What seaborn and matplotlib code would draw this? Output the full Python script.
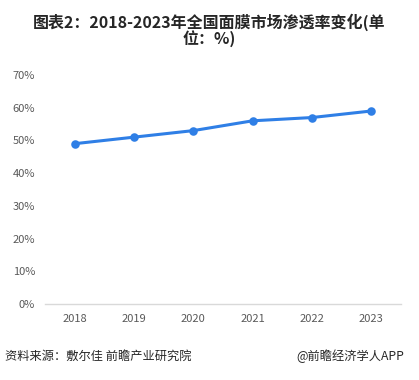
import seaborn as sns
import pandas as pd
import matplotlib.pyplot as plt

# data
years = ['2018', '2019', '2020', '2021', '2022', '2023']
rates = [49, 51, 53, 56, 57, 59]
yticks = [0, 10, 20, 30, 40, 50, 60, 70]

df = pd.DataFrame({'year': years, 'rate': rates})

sns.set_style('white')
plt.rcParams['font.family'] = ['Noto Sans CJK SC', 'DejaVu Sans']

fig = plt.figure(figsize=(4.19, 3.8), dpi=100)
ax = fig.add_axes([0.107, 0.2, 0.85, 0.6026])

sns.pointplot(data=df, x='year', y='rate', color='#2f7fe6',
              markersize=4.5, linewidth=2.2, ax=ax)

ax.set_xlim(-0.5, 5.5)
ax.set_ylim(0, 70)
ax.set_yticks(yticks)
ax.set_yticklabels([f'{t}%' for t in yticks])
ax.set_xlabel('')
ax.set_ylabel('')
ax.tick_params(axis='both', length=0, labelsize=8, labelcolor='#595959')
ax.tick_params(axis='x', pad=7)
ax.tick_params(axis='y', pad=7)
for s in ['top', 'right', 'left']:
    ax.spines[s].set_visible(False)
ax.spines['bottom'].set_color('#d9d9d9')
ax.spines['bottom'].set_linewidth(1)
ax.grid(False)

fig.text(0.5, 0.965, '图表2：2018-2023年全国面膜市场渗透率变化(单\n位：%)',
         ha='center', va='top', fontsize=11.5, fontweight='bold',
         color='#262626', linespacing=0.95)
fig.text(0.012, 0.063, '资料来源：敷尔佳 前瞻产业研究院', ha='left', va='center',
         fontsize=8.8, color='#262626')
fig.text(0.965, 0.063, '@前瞻经济学人APP', ha='right', va='center',
         fontsize=8.8, color='#262626')

plt.savefig('out.png', dpi=100)
